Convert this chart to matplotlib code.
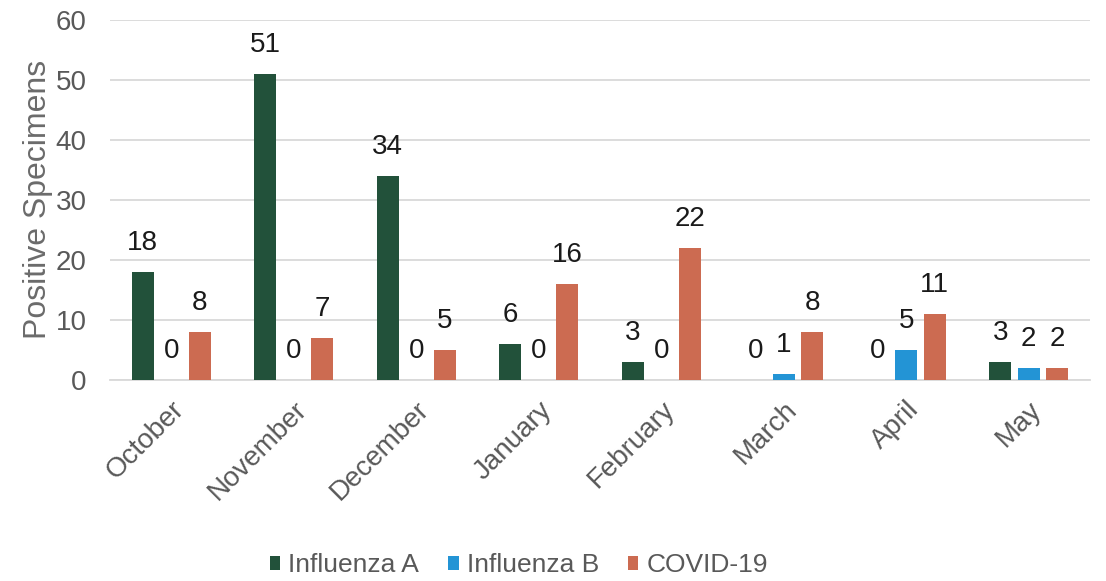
import numpy as np
import matplotlib.pyplot as plt

plt.rcParams['font.family'] = ['Liberation Sans', 'DejaVu Sans']

months = ['October', 'November', 'December', 'January', 'February', 'March', 'April', 'May']
flu_a = [18, 51, 34, 6, 3, 0, 0, 3]
flu_b = [0, 0, 0, 0, 0, 1, 5, 2]
covid = [8, 7, 5, 16, 22, 8, 11, 2]

series = [('Influenza A', flu_a, '#22513A'),
          ('Influenza B', flu_b, '#2394D5'),
          ('COVID-19', covid, '#CC6B51')]

fig = plt.figure(figsize=(11.06, 5.81), dpi=100)
ax = fig.add_axes([0.0995, 0.346, 0.886, 0.62])

x = np.arange(len(months))
width = 0.18
offset = 0.233
for i, (name, vals, color) in enumerate(series):
    pos = x + (i - 1) * offset
    ax.bar(pos, vals, width, color=color, label=name, zorder=3)
    for xp, v in zip(pos, vals):
        ax.annotate(str(v), (xp, v), xytext=(0, 16), textcoords='offset points',
                    ha='center', va='baseline', fontsize=20, color='#1a1a1a')

ax.set_xlim(-0.5, len(months) - 0.5)
ax.set_ylim(0, 60)
ax.set_yticks(range(0, 61, 10))
ax.yaxis.grid(True, color='#d9d9d9', linewidth=1.3, zorder=0)
for s in ['top', 'right', 'left']:
    ax.spines[s].set_visible(False)
ax.spines['bottom'].set_color('#d9d9d9')
ax.spines['bottom'].set_linewidth(1.3)
ax.tick_params(axis='both', length=0, labelsize=20, labelcolor='#595959')
ax.tick_params(axis='y', pad=17)
ax.tick_params(axis='x', pad=12)
ax.set_xticks(x)
ax.set_xticklabels(months, rotation=45, ha='right', rotation_mode='anchor')
ax.set_ylabel('Positive Specimens', fontsize=23, color='#6b6b6b', labelpad=2)

fig.legend(*ax.get_legend_handles_labels(), loc='center', bbox_to_anchor=(0.469, 0.027),
           ncol=3, frameon=False, fontsize=19, labelcolor='#595959',
           handlelength=0.4, handleheight=0.4, handletextpad=0.3, columnspacing=1.1)

fig.savefig('out.png', dpi=100)
